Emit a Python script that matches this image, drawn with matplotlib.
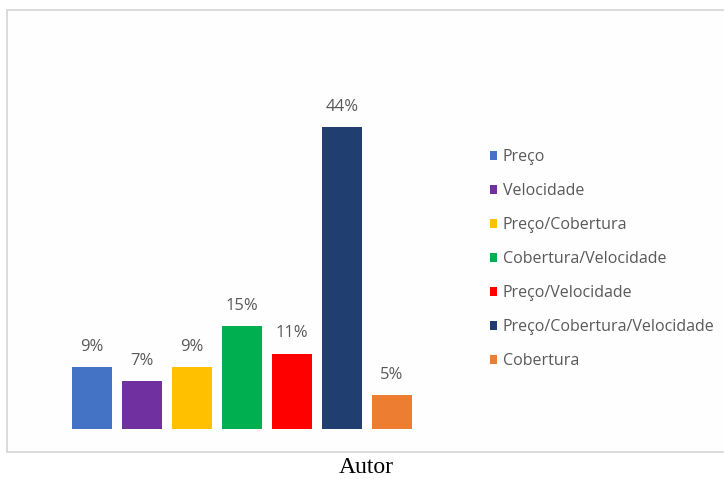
import matplotlib
matplotlib.use("Agg")
import matplotlib.pyplot as plt
from matplotlib.patches import Rectangle

categories = ["Preço", "Velocidade", "Preço/Cobertura", "Cobertura/Velocidade",
              "Preço/Velocidade", "Preço/Cobertura/Velocidade", "Cobertura"]
values = [9, 7, 9, 15, 11, 44, 5]
colors = ["#4472C4", "#7030A0", "#FFC000", "#00B050", "#FF0000", "#203F70", "#ED7D31"]
source_label = "Autor"

W, H = 724, 479
fig = plt.figure(figsize=(W / 100, H / 100), dpi=100)
fig.patch.set_facecolor("white")

# chart frame
fig.patches.append(Rectangle((7 / W, (H - 452) / H), (W + 10 - 7) / W, (452 - 10) / H,
                             transform=fig.transFigure, facecolor="#FEFEFE",
                             edgecolor="#D4D4D4", linewidth=1.2, zorder=-5))

# plot area: bars from x=67..417 px, baseline y=429 px, 50% at y=86 px
ax = fig.add_axes([67 / W, (H - 429) / H, 350 / W, (429 - 86) / H], zorder=2)
ax.set_facecolor("none")
x = list(range(len(values)))
bars = ax.bar(x, values, width=0.8, color=colors, label=categories)
ax.set_xlim(-0.5, len(values) - 0.5)
ax.set_ylim(0, 50)
ax.axis("off")

label_font = ["Open Sans", "DejaVu Sans"]
for xi, v in zip(x, values):
    ax.annotate(f"{v}%", (xi, v), xytext=(0, 14.5), textcoords="offset points",
                ha="center", va="center", fontsize=12, color="#595959",
                family=label_font)

leg = fig.legend(bars, categories, loc="upper left",
                 bbox_to_anchor=(482 / W, (H - 141) / H),
                 frameon=False, handlelength=0.45, handleheight=0.45,
                 handletextpad=0.35, labelspacing=1.13, borderpad=0,
                 prop={"family": label_font, "size": 11.5})
for t in leg.get_texts():
    t.set_color("#595959")

fig.text(366 / W, (H - 473) / H, source_label, ha="center", va="baseline",
         fontsize=17, family=["Liberation Serif", "DejaVu Serif"], color="black")

fig.savefig("out.png", dpi=100)
